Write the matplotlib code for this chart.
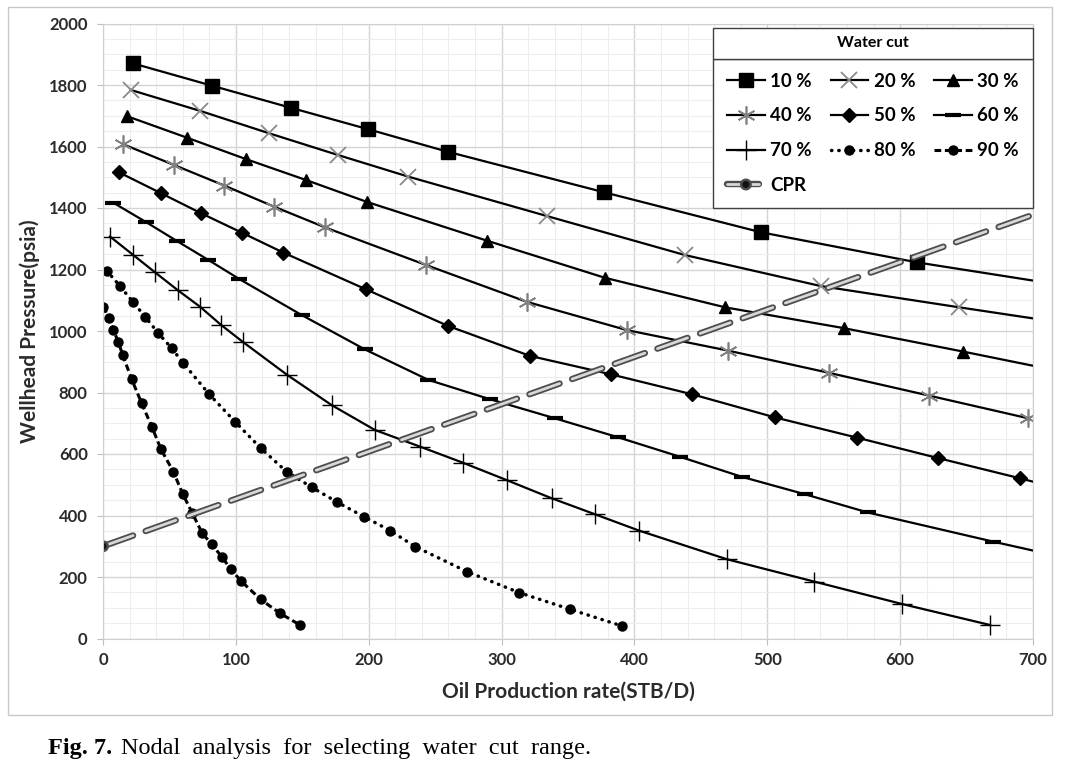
import matplotlib
matplotlib.use("Agg")
import matplotlib.pyplot as plt
import matplotlib.patheffects as pe
from matplotlib.patches import Rectangle
from matplotlib.ticker import MultipleLocator

plt.rcParams["font.family"] = ["Lato", "DejaVu Sans"]

# water cut curves (last point of some series is where the line leaves the plot)
wc10_x = [22.8, 81.8, 141.3, 199.7, 259.4, 377.3, 495.3, 612.9, 700]
wc10_y = [1870, 1798, 1726, 1656, 1583, 1451, 1321, 1223, 1164]

wc20_x = [20.8, 73.0, 125.0, 177.1, 229.8, 334.0, 438.0, 540.4, 644.5, 700]
wc20_y = [1784, 1716, 1643, 1572, 1502, 1374, 1247, 1146, 1077, 1041]

wc30_x = [17.8, 63.0, 107.6, 152.8, 198.5, 288.8, 377.8, 468.2, 558.0, 647.5, 700]
wc30_y = [1699, 1629, 1559, 1491, 1420, 1294, 1173, 1077, 1009, 933, 887]

wc40_x = [15.3, 53.4, 91.3, 129.0, 167.1, 242.9, 318.9, 394.2, 470.7, 546.4, 621.7, 696.5]
wc40_y = [1607, 1540, 1473, 1404, 1337, 1215, 1095, 1003, 936, 864, 790, 716]

wc50_x = [12.0, 43.7, 73.8, 104.4, 135.7, 197.7, 259.4, 321.4, 382.4, 443.6, 505.8, 567.7, 628.3, 690.2, 700]
wc50_y = [1516, 1448, 1383, 1320, 1255, 1136, 1017, 919, 859, 794, 719, 653, 587, 521, 510]

wc60_x = [7.8, 32.1, 55.5, 79.3, 102.6, 149.5, 197.2, 244.9, 291.3, 340.2, 387.9, 434.3,
          480.7, 528.4, 575.5, 670.1, 700]
wc60_y = [1417, 1355, 1293, 1231, 1169, 1052, 940, 841, 778, 716, 654, 591,
          526, 469, 410, 315, 286]

wc70_x = [5.3, 22.8, 39.1, 56.2, 73.0, 88.8, 105.1, 138.7, 172.1, 204.7, 238.6, 270.7,
          303.9, 337.7, 370.3, 403.4, 469.4, 535.4, 601.6, 667.6]
wc70_y = [1307, 1247, 1191, 1133, 1079, 1020, 965, 857, 759, 678, 624, 572,
          515, 456, 404, 351, 258, 185, 112, 44]

wc80_x = [2.8, 12.8, 22.4, 31.6, 41.6, 51.7, 60.5, 79.8, 99.4, 118.7, 138.3, 157.1,
          176.4, 196.5, 216.1, 234.9, 274.2, 313.4, 351.6, 390.4]
wc80_y = [1196, 1146, 1095, 1047, 993, 944, 895, 795, 705, 619, 542, 492,
          443, 396, 351, 299, 217, 149, 95, 41]

wc90_x = [0.2, 4.7, 7.8, 11.5, 14.8, 21.6, 29.1, 36.7, 43.7, 53.0, 60.0, 67.3,
          74.7, 81.8, 89.3, 96.3, 103.6, 118.7, 133.2, 148.3]
wc90_y = [1079, 1041, 1003, 965, 922, 843, 765, 689, 615, 542, 470, 407,
          342, 307, 266, 225, 188, 127, 82, 44]

cpr_x = [0, 700]
cpr_y = [300, 1378]

fig = plt.figure(figsize=(10.84, 7.65), dpi=100)
ax = fig.add_axes([103 / 1084, 1 - 638.5 / 765, 930 / 1084, 615 / 765])

ax.set_xlim(0, 700)
ax.set_ylim(0, 2000)
ax.xaxis.set_major_locator(MultipleLocator(100))
ax.xaxis.set_minor_locator(MultipleLocator(20))
ax.yaxis.set_major_locator(MultipleLocator(200))
ax.yaxis.set_minor_locator(MultipleLocator(50))
ax.grid(which="major", color="#d4d4d4", lw=1.0)
ax.grid(which="minor", color="#ededed", lw=0.8)
ax.set_axisbelow(True)
for s in ax.spines.values():
    s.set_color("#cfcfcf")
ax.tick_params(which="major", length=4, color="#bdbdbd", labelsize=12, labelcolor="#2b2b2b")
ax.tick_params(axis="y", pad=7)
ax.tick_params(axis="x", pad=6)
ax.tick_params(which="minor", length=0)
for lab in ax.get_xticklabels() + ax.get_yticklabels():
    lab.set_fontweight("bold")

lw = 1.6
h10, = ax.plot(wc10_x, wc10_y, color="k", lw=lw, marker="s", ms=10,
               markevery=list(range(len(wc10_x) - 1)), label="10 %")
h20, = ax.plot(wc20_x, wc20_y, color="k", lw=lw, marker="x", ms=11, mec="#8a8a8a", mew=1.3,
               markevery=list(range(len(wc20_x) - 1)), label="20 %")
h30, = ax.plot(wc30_x, wc30_y, color="k", lw=lw, marker="^", ms=9,
               markevery=list(range(len(wc30_x) - 1)), label="30 %")
h40, = ax.plot(wc40_x, wc40_y, color="k", lw=lw, marker=(6, 2, 0), ms=13, mec="#808080", mew=1.2,
               label="40 %")
h50, = ax.plot(wc50_x, wc50_y, color="k", lw=lw, marker="D", ms=7,
               markevery=list(range(len(wc50_x) - 1)), label="50 %")
h60, = ax.plot(wc60_x, wc60_y, color="k", lw=lw, marker="_", ms=12, mew=3,
               markevery=list(range(len(wc60_x) - 1)), label="60 %")
h70, = ax.plot(wc70_x, wc70_y, color="k", lw=lw, marker="+", ms=15, mew=1.0, label="70 %")
h80, = ax.plot(wc80_x, wc80_y, color="k", lw=2.5, ls=(0, (0.1, 2.0)), dash_capstyle="round",
               marker="o", ms=6.5, label="80 %")
h90, = ax.plot(wc90_x, wc90_y, color="k", lw=2.2, ls=(0, (2.2, 1.2)),
               marker="o", ms=6.5, label="90 %")
hcpr, = ax.plot(cpr_x, cpr_y, color="#d8d8d8", lw=2.0, ls=(0, (11.5, 4.8)), dash_capstyle="round",
                marker="o", ms=4, mfc="#111111", mec="#111111", markevery=[0], label="CPR",
                path_effects=[pe.Stroke(linewidth=4.6, foreground="#4d4d4d"), pe.Normal()])

handles = [h10, h40, h70, hcpr, h20, h50, h80, h30, h60, h90]
leg = ax.legend(handles, [h.get_label() for h in handles], ncol=3, loc="upper left",
                bbox_to_anchor=(0.656, 0.697, 0.344, 0.246), mode="expand", borderaxespad=0,
                fancybox=False, framealpha=1, edgecolor="#404040", numpoints=1,
                handlelength=2.0, handletextpad=0.3, labelspacing=0.95, columnspacing=0.6,
                borderpad=0.75, prop={"weight": "bold", "size": 13.5})
leg.get_frame().set_linewidth(1.0)
leg.set_zorder(6)

ax.add_patch(Rectangle((0.656, 0.943), 0.344, 0.05, transform=ax.transAxes, facecolor="white",
                       edgecolor="#404040", lw=1.0, clip_on=False, zorder=7))
ax.text(0.828, 0.968, "Water cut", transform=ax.transAxes, ha="center", va="center",
        fontsize=11.5, fontweight="bold", zorder=8)

ax.set_xlabel("Oil Production rate(STB/D)", fontsize=15, fontweight="bold", color="#2b2b2b")
ax.set_ylabel("Wellhead Pressure(psia)", fontsize=15, fontweight="bold", color="#2b2b2b")
ax.xaxis.set_label_coords(0.5, -0.07)
ax.yaxis.set_label_coords(-0.068, 0.5)

# chart area border
fig.add_artist(Rectangle((8 / 1084, 1 - 715 / 765), 1044 / 1084, 708 / 765,
                         transform=fig.transFigure, fill=False, ec="#c8c8c8", lw=1.0))

# caption
cap = fig.text(48 / 1084, 1 - 754 / 765, "Fig. 7.", family="Liberation Serif",
               fontsize=17.5, fontweight="bold")
ax.annotate("Nodal  analysis  for  selecting  water  cut  range.", xy=(1, 0), xycoords=cap,
            xytext=(6, 0), textcoords="offset points", family="Liberation Serif",
            fontsize=17.5, va="bottom", annotation_clip=False)

fig.savefig("out.png", dpi=100)
